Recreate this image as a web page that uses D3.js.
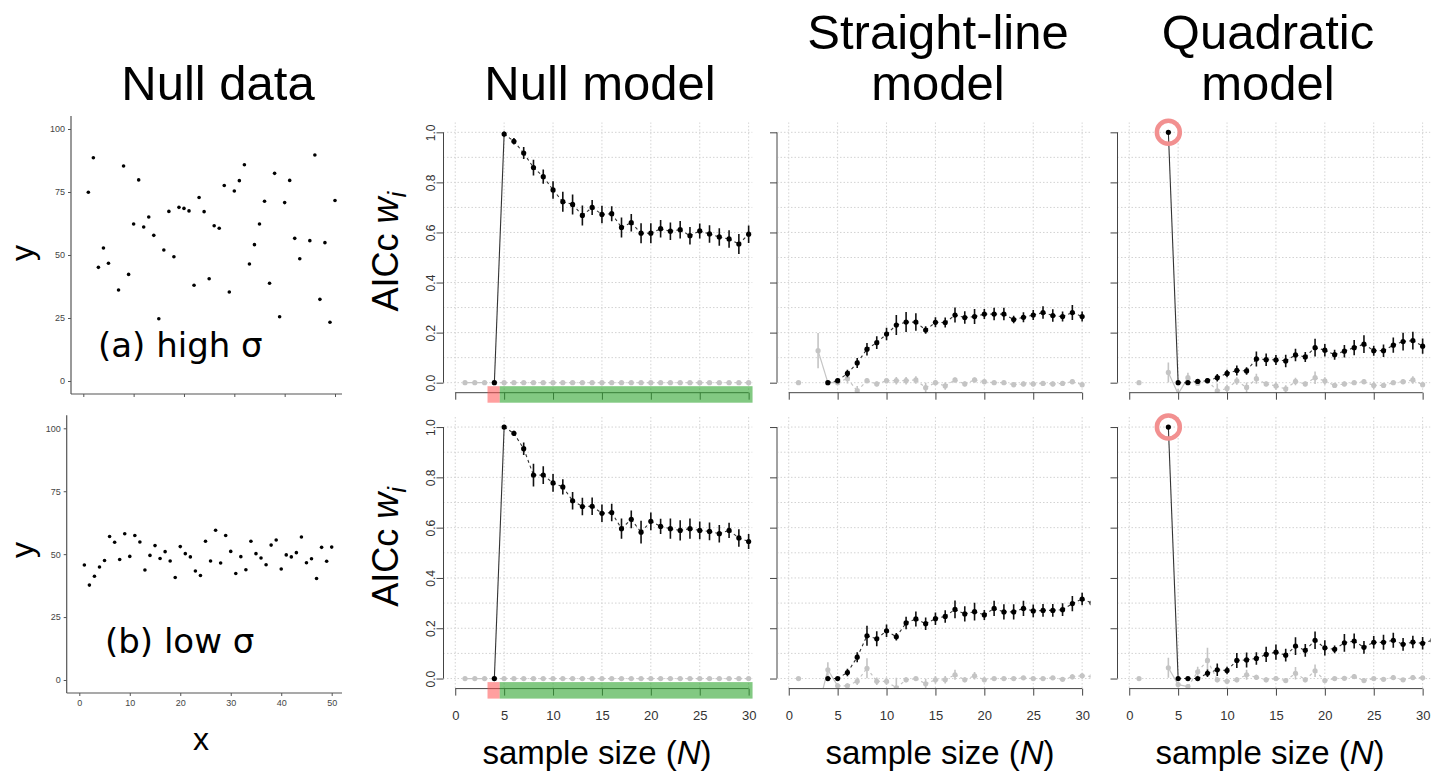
<!DOCTYPE html>
<html><head><meta charset="utf-8">
<script src="https://cdn.jsdelivr.net/npm/d3@7"></script>
<style>
html,body{margin:0;padding:0;background:#fff;}
svg{display:block;}
</style></head>
<body>
<svg id="chart" width="1439" height="771" font-family="Liberation Sans, Arial, sans-serif"></svg>
<script>
// ---------------- DATA ----------------
const scatterXHigh = [1,2,3,4,5,7,8,9,10,11,12,13,14,15,16,17,18,19,20,21,22,23,24,25,26,27,28,29,30,31,32,33,34,35,36,37,38,39,40,41,42,43,45,46,47,48,49,50];
const scatterYHigh = [74.9,88.6,45.1,52.8,46.7,36.1,85.3,42.3,62.3,79.8,61.1,65.1,57.8,24.7,52.0,67.3,49.3,68.9,68.5,67.5,38.0,72.8,67.2,40.6,61.6,60.6,77.6,35.3,75.4,79.5,85.8,46.4,54.1,62.3,71.3,38.8,82.4,25.5,70.8,79.6,56.6,48.5,55.7,89.7,32.4,54.9,23.3,71.6];
const scatterXLow = [1,2,3,4,5,6,7,8,9,10,11,12,13,14,15,16,17,18,19,20,21,22,23,24,25,26,27,28,29,30,31,32,33,34,35,36,37,38,39,40,41,42,43,44,45,46,47,48,49,50];
const scatterYLow = [45.7,37.7,41.2,44.9,47.5,57.0,54.7,47.9,58.1,49.1,57.4,54.8,43.7,49.5,53.4,48.3,51.0,47.3,40.7,53.0,50.2,48.9,43.3,41.5,55.1,47.3,59.5,46.5,57.4,51.1,42.3,49.0,43.8,55.1,50.2,48.5,45.8,53.6,55.6,44.1,49.7,48.9,50.6,56.8,46.6,48.2,40.3,52.7,47.2,52.8];
const scatterTicksY = [0,25,50,75,100];
const scatterTicksX = [0,10,20,30,40,50];

// model weights, index 0 = N of 1
const nullHighBlack = [null,null,null,0,0.993,0.964,0.917,0.859,0.823,0.770,0.723,0.712,0.668,0.700,0.672,0.675,0.620,0.639,0.597,0.597,0.615,0.605,0.611,0.587,0.606,0.594,0.582,0.574,0.554,0.593];
const nullHighBlackErr = [null,null,null,0,0.01,0.013,0.024,0.031,0.028,0.035,0.04,0.04,0.04,0.03,0.035,0.03,0.04,0.035,0.04,0.04,0.035,0.035,0.035,0.035,0.03,0.035,0.035,0.035,0.04,0.035];
const nullHighGray = [0,0,0,0,0,0,0,0,0,0,0,0,0,0,0,0,0,0,0,0,0,0,0,0,0,0,0,0,0,0];
const nullLowBlack = [null,null,null,0,1.0,0.975,0.914,0.809,0.809,0.778,0.762,0.707,0.684,0.685,0.657,0.660,0.596,0.633,0.582,0.625,0.605,0.596,0.589,0.596,0.589,0.585,0.576,0.589,0.559,0.545];
const nullLowBlackErr = [null,null,null,0,0,0.01,0.025,0.045,0.035,0.035,0.03,0.035,0.035,0.035,0.035,0.035,0.04,0.035,0.045,0.035,0.03,0.04,0.04,0.04,0.035,0.035,0.035,0.03,0.035,0.03];
const nullLowGray = [0,0,0,0,0,0,0,0,0,0,0,0,0,0,0,0,0,0,0,0,0,0,0,0,0,0,0,0,0,0];

const straightHighBlack = [null,null,null,0,0.008,0.037,0.079,0.134,0.160,0.194,0.230,0.242,0.242,0.210,0.241,0.240,0.270,0.260,0.264,0.274,0.274,0.274,0.252,0.261,0.270,0.280,0.268,0.264,0.280,0.264];
const straightHighBlackErr = [null,null,null,0,0.01,0.015,0.02,0.025,0.025,0.025,0.04,0.04,0.035,0.015,0.02,0.02,0.03,0.025,0.03,0.02,0.025,0.025,0.015,0.02,0.02,0.025,0.025,0.02,0.03,0.02];
const straightHighGray = [0,null,0.128,0,0,0.017,-0.033,0.008,-0.005,0.008,0.008,0.008,0.011,-0.02,0,-0.013,0.011,-0.005,0.011,0.004,0,0,-0.008,-0.005,-0.005,-0.003,-0.005,-0.003,0.004,-0.008];
const straightHighGrayErr = [0,null,0.07,0,0,0.02,0.02,0.01,0.01,0.01,0.015,0.015,0.015,0.02,0.01,0.015,0.01,0.01,0.01,0.01,0.005,0.005,0.01,0.01,0.01,0.01,0.01,0.01,0.01,0.01];
const straightLowBlack = [null,null,null,0,0,0.024,0.085,0.170,0.158,0.190,0.166,0.221,0.237,0.218,0.238,0.247,0.275,0.257,0.266,0.253,0.279,0.265,0.265,0.279,0.269,0.271,0.271,0.274,0.298,0.316,0.300];
const straightLowBlackErr = [null,null,null,0,0,0.015,0.02,0.04,0.03,0.025,0.015,0.025,0.03,0.025,0.025,0.025,0.035,0.03,0.035,0.02,0.03,0.03,0.03,0.03,0.025,0.025,0.025,0.025,0.03,0.025,0.02];
const straightLowGray = [0,null,-0.12,0.035,-0.029,-0.029,-0.011,0.041,-0.011,-0.011,-0.037,-0.005,0,-0.021,-0.005,-0.005,0.015,-0.005,0.011,-0.005,0,0,0,0.003,0,0,0.003,-0.003,0.007,0.011,0.008];
const straightLowGrayErr = [0,null,0.03,0.03,0.01,0.01,0.015,0.04,0.015,0.015,0.04,0.01,0.005,0.02,0.015,0.015,0.02,0.01,0.015,0.01,0.005,0.005,0.005,0.005,0.005,0.005,0.005,0.005,0.01,0.01,0.01];

const quadHighBlack = [null,null,null,1.0,0,0,0.005,0.008,0.02,0.037,0.049,0.047,0.095,0.092,0.091,0.087,0.111,0.103,0.140,0.130,0.112,0.126,0.140,0.154,0.128,0.128,0.150,0.164,0.168,0.146];
const quadHighBlackErr = [null,null,null,0,0,0,0.01,0.01,0.015,0.015,0.02,0.015,0.03,0.025,0.02,0.025,0.025,0.02,0.035,0.025,0.02,0.025,0.03,0.035,0.02,0.025,0.03,0.035,0.035,0.03];
const quadHighGray = [0,null,null,0.041,-0.045,0.02,-0.003,0.008,-0.033,-0.023,0.007,-0.019,0.016,-0.005,-0.013,-0.025,0.005,-0.005,0.02,0.007,-0.011,-0.005,0,0.004,-0.011,-0.011,0,0.004,0.011,-0.008];
const quadHighGrayErr = [0,null,null,0.04,0.02,0.02,0.01,0.01,0.03,0.015,0.015,0.02,0.02,0.01,0.015,0.015,0.015,0.01,0.025,0.015,0.01,0.01,0.005,0.01,0.015,0.01,0.005,0.01,0.015,0.01];
const quadLowBlack = [null,null,null,1.0,0,0,0,0.021,0.035,0.032,0.072,0.074,0.08,0.096,0.105,0.093,0.129,0.112,0.152,0.122,0.116,0.142,0.149,0.124,0.144,0.144,0.152,0.136,0.145,0.140,0.152];
const quadLowBlackErr = [null,null,null,0,0,0,0,0.015,0.025,0.015,0.03,0.03,0.025,0.03,0.03,0.025,0.035,0.025,0.035,0.03,0.015,0.035,0.03,0.025,0.025,0.03,0.03,0.025,0.025,0.025,0.025];
const quadLowGray = [0,null,null,0.043,-0.024,-0.032,0.027,0.072,-0.005,-0.011,-0.005,0.015,0.005,-0.005,0,-0.008,0.021,-0.005,0.031,-0.008,0,0.001,0.008,-0.008,0,-0.003,0.004,-0.005,0.004,0.003];
const quadLowGrayErr = [0,null,null,0.04,0.01,0.01,0.02,0.05,0.01,0.01,0.01,0.02,0.01,0.01,0.01,0.01,0.025,0.01,0.025,0.01,0.005,0.005,0.01,0.01,0.005,0.005,0.01,0.005,0.01,0.005];

const sampleTicks = [0,5,10,15,20,25,30];
const weightTicks = [0,0.2,0.4,0.6,0.8,1.0];
const weightTickLabels = ["0.0","0.2","0.4","0.6","0.8","1.0"];
const gridY = [0,0.1,0.2,0.3,0.4,0.5,0.6,0.7,0.8,0.9,1.0];
const titles = [["Null data"],["Null model"],["Straight-line","model"],["Quadratic","model"]];
const unsupportedBand = [3.3, 4.55];   // red band
const supportedBand = [4.55, 30.4];     // green band
const highlightN = 4;

// ---------------- DRAWING ----------------
const svg = d3.select("#chart");
const defs = svg.append("defs");

// titles
const titleX = [218, 600, 938, 1268];
titles.forEach((t, i) => {
  t.forEach((line, j) => {
    svg.append("text").attr("x", titleX[i]).attr("y", t.length === 1 ? 100 : (j === 0 ? 49 : 100))
      .attr("text-anchor", "middle").attr("font-size", 49).attr("fill", "#000").text(line);
  });
});

// ---- scatter panels ----
const scatterRows = [
  {xs: scatterXHigh, ys: scatterYHigh, x0: 83.3, x1: 335, yb: 381, yt: 129, axX: 71, axY: 394, label: "(a) high σ", lx: 98, ly: 357, labels: false, ylab: 253},
  {xs: scatterXLow, ys: scatterYLow, x0: 79.3, x1: 331.7, yb: 680, yt: 428.3, axX: 66.7, axY: 693, label: "(b) low σ", lx: 105, ly: 653, labels: true, ylab: 550}
];
scatterRows.forEach(r => {
  const x = d3.scaleLinear().domain([0, 50]).range([r.x0, r.x1]);
  const y = d3.scaleLinear().domain([0, 100]).range([r.yb, r.yt]);
  const g = svg.append("g");
  const ya = g.append("g").attr("transform", `translate(${r.axX},0)`)
    .call(d3.axisLeft(y).tickValues(scatterTicksY).tickSize(3).tickSizeOuter(0).tickPadding(3));
  ya.select(".domain").remove();
  ya.selectAll("line").attr("stroke", "#555");
  ya.selectAll("text").attr("font-size", 9).attr("fill", "#444").attr("font-family", "Liberation Sans, Arial, sans-serif");
  g.append("line").attr("x1", r.axX).attr("x2", r.axX).attr("y1", r.yt - 13).attr("y2", r.axY)
    .attr("stroke", "#555").attr("stroke-width", 1.2);
  const xa = g.append("g").attr("transform", `translate(0,${r.axY})`)
    .call(d3.axisBottom(x).tickValues(scatterTicksX).tickSize(3).tickSizeOuter(0).tickPadding(4));
  xa.select(".domain").remove();
  xa.selectAll("line").attr("stroke", "#555");
  xa.selectAll("text").attr("font-size", 9).attr("fill", "#444").attr("font-family", "Liberation Sans, Arial, sans-serif")
    .style("display", r.labels ? null : "none");
  g.append("line").attr("x1", r.axX).attr("x2", 342).attr("y1", r.axY).attr("y2", r.axY)
    .attr("stroke", "#555").attr("stroke-width", 1.2);
  g.selectAll("circle.pt").data(r.xs.map((v, i) => [v, r.ys[i]])).join("circle")
    .attr("cx", d => x(d[0])).attr("cy", d => y(d[1])).attr("r", 1.8).attr("fill", "#000");
  g.append("text").attr("x", r.lx).attr("y", r.ly).attr("font-size", 34)
    .attr("font-family", "DejaVu Sans, sans-serif").text(r.label);
  g.append("text").attr("transform", `translate(33,${r.ylab}) rotate(-90)`).attr("text-anchor", "middle")
    .attr("font-size", 32).text("y");
});
svg.append("text").attr("x", 201).attr("y", 750).attr("text-anchor", "middle").attr("font-size", 32).text("x");

// ---- model panels ----
const cols = [
  {axisX: 443.5, clipR: 30.4, rows: [[nullHighBlack, nullHighBlackErr, nullHighGray, null], [nullLowBlack, nullLowBlackErr, nullLowGray, null]], bands: true, ylabels: true, xlab: 597},
  {axisX: 777, clipR: 30.85, rows: [[straightHighBlack, straightHighBlackErr, straightHighGray, straightHighGrayErr], [straightLowBlack, straightLowBlackErr, straightLowGray, straightLowGrayErr]], bands: false, ylabels: false, xlab: 940},
  {axisX: 1117.5, clipR: 30.8, rows: [[quadHighBlack, quadHighBlackErr, quadHighGray, quadHighGrayErr], [quadLowBlack, quadLowBlackErr, quadLowGray, quadLowGrayErr]], bands: false, ylabels: false, circle: true, xlab: 1270}
];
const rowY = [[392.7, 122.3], [688.6, 417]];
const unit = 9.78;
let clipId = 0;

function segs(vals) {
  const pts = vals.map((v, i) => v == null ? null : [i + 1, v]);
  const out = [];
  for (let i = 0; i < pts.length - 1; i++) {
    if (pts[i] && pts[i + 1]) out.push([pts[i], pts[i + 1]]);
  }
  return out;
}

cols.forEach((c, ci) => {
  c.rows.forEach((rowData, ri) => {
    const [black, blackErr, gray, grayErr] = rowData;
    const x = d3.scaleLinear().domain([-1.2, 30]).range([c.axisX, c.axisX + 31.2 * unit]);
    const y = d3.scaleLinear().domain([-0.04, 1.04]).range(rowY[ri]);
    const g = svg.append("g");
    const id = "clip" + (clipId++);
    defs.append("clipPath").attr("id", id).append("rect")
      .attr("x", c.axisX + 1).attr("y", y(1.04)).attr("width", x(c.clipR) - c.axisX - 1).attr("height", y(-0.04) - y(1.04));
    const pg = g.append("g").attr("clip-path", `url(#${id})`);
    pg.selectAll("line.gv").data(sampleTicks).join("line")
      .attr("x1", d => x(d)).attr("x2", d => x(d)).attr("y1", y(1.04)).attr("y2", y(-0.04))
      .attr("stroke", "#d3d3d3").attr("stroke-width", 1).attr("stroke-dasharray", "1.5,2");
    pg.selectAll("line.gh").data(gridY).join("line")
      .attr("x1", c.axisX).attr("x2", x(c.clipR)).attr("y1", d => y(d)).attr("y2", d => y(d))
      .attr("stroke", "#d3d3d3").attr("stroke-width", 1).attr("stroke-dasharray", "1.5,2");
    segs(gray).forEach((s, k) => {
      pg.append("line").attr("x1", x(s[0][0])).attr("y1", y(s[0][1])).attr("x2", x(s[1][0])).attr("y2", y(s[1][1]))
        .attr("stroke", "#c4c4c4").attr("stroke-width", 1.2).attr("stroke-dasharray", k < 2 ? null : "3,3");
    });
    if (grayErr) {
      pg.selectAll("line.ge").data(gray.map((v, i) => [i + 1, v, grayErr[i]]).filter(d => d[1] != null && d[2] > 0)).join("line")
        .attr("x1", d => x(d[0])).attr("x2", d => x(d[0])).attr("y1", d => y(d[1] - d[2])).attr("y2", d => y(d[1] + d[2]))
        .attr("stroke", "#c4c4c4").attr("stroke-width", 1.6);
    }
    pg.selectAll("circle.gp").data(gray.map((v, i) => [i + 1, v]).filter(d => d[1] != null)).join("circle")
      .attr("cx", d => x(d[0])).attr("cy", d => y(d[1])).attr("r", 2.6).attr("fill", "#c4c4c4");
    segs(black).forEach((s, k) => {
      pg.append("line").attr("x1", x(s[0][0])).attr("y1", y(s[0][1])).attr("x2", x(s[1][0])).attr("y2", y(s[1][1]))
        .attr("stroke", "#333").attr("stroke-width", 1.1).attr("stroke-dasharray", k === 0 && Math.abs(s[1][1] - s[0][1]) > 0.5 ? null : "3,3");
    });
    pg.selectAll("line.be").data(black.map((v, i) => [i + 1, v, blackErr[i]]).filter(d => d[1] != null && d[2] > 0)).join("line")
      .attr("x1", d => x(d[0])).attr("x2", d => x(d[0])).attr("y1", d => y(d[1] - d[2])).attr("y2", d => y(d[1] + d[2]))
      .attr("stroke", "#111").attr("stroke-width", 1.6);
    pg.selectAll("circle.bp").data(black.map((v, i) => [i + 1, v]).filter(d => d[1] != null)).join("circle")
      .attr("cx", d => x(d[0])).attr("cy", d => y(d[1])).attr("r", 2.6).attr("fill", "#000");

    const base = y(-0.04);
    const xa = g.append("g").attr("transform", `translate(0,${base})`)
      .call(d3.axisBottom(x).tickValues(sampleTicks).tickSize(7).tickSizeOuter(0).tickPadding(15));
    xa.select(".domain").remove();
    xa.selectAll("line").attr("stroke", "#444");
    xa.selectAll("text").attr("font-size", 13).attr("fill", "#333")
      .attr("font-family", "Liberation Sans Narrow, Liberation Sans, Arial, sans-serif")
      .style("display", ri === 1 ? null : "none");
    g.append("line").attr("x1", x(0)).attr("x2", x(30)).attr("y1", base).attr("y2", base).attr("stroke", "#444").attr("stroke-width", 1);
    const ya = g.append("g").attr("transform", `translate(${c.axisX},0)`)
      .call(d3.axisLeft(y).tickValues(weightTicks).tickSize(7).tickSizeOuter(0).tickFormat((d, i) => weightTickLabels[i]));
    ya.select(".domain").remove();
    ya.selectAll("line").attr("stroke", "#444");
    ya.selectAll("text").attr("transform", "rotate(-90)").attr("x", 0).attr("y", -9).attr("dy", 0)
      .attr("text-anchor", "middle").attr("font-size", 12).attr("fill", "#333")
      .attr("font-family", "Liberation Sans, Arial, sans-serif")
      .style("display", c.ylabels ? null : "none");
    g.append("line").attr("x1", c.axisX).attr("x2", c.axisX).attr("y1", y(0)).attr("y2", y(1)).attr("stroke", "#444").attr("stroke-width", 1);

    if (c.bands) {
      g.append("rect").attr("x", x(unsupportedBand[0])).attr("width", x(unsupportedBand[1]) - x(unsupportedBand[0]))
        .attr("y", base - 6.5).attr("height", 16.5).attr("fill", "#ff5050").attr("opacity", 0.55);
      g.append("rect").attr("x", x(supportedBand[0])).attr("width", x(supportedBand[1]) - x(supportedBand[0]))
        .attr("y", base - 6.5).attr("height", 16.5).attr("fill", "#2fa52f").attr("opacity", 0.6);
    }
    if (c.circle) {
      g.append("circle").attr("cx", x(highlightN)).attr("cy", y(black[highlightN - 1])).attr("r", 11.5)
        .attr("fill", "none").attr("stroke", "#f29090").attr("stroke-width", 4.5);
    }
    if (ci === 0) {
      const lab = g.append("text").attr("transform", `translate(398,${(y(0) + y(1)) / 2 - 6}) rotate(-90)`)
        .attr("text-anchor", "middle").attr("font-size", 36);
      lab.append("tspan").text("AICc ");
      lab.append("tspan").attr("font-style", "italic").text("w");
      lab.append("tspan").attr("font-style", "italic").attr("font-size", 26).attr("dy", 8).text("i");
    }
    if (ri === 1) {
      const t = svg.append("text").attr("x", c.xlab).attr("y", 764).attr("text-anchor", "middle").attr("font-size", 33);
      t.append("tspan").text("sample size (");
      t.append("tspan").attr("font-style", "italic").text("N");
      t.append("tspan").text(")");
    }
  });
});
</script>
</body></html>
